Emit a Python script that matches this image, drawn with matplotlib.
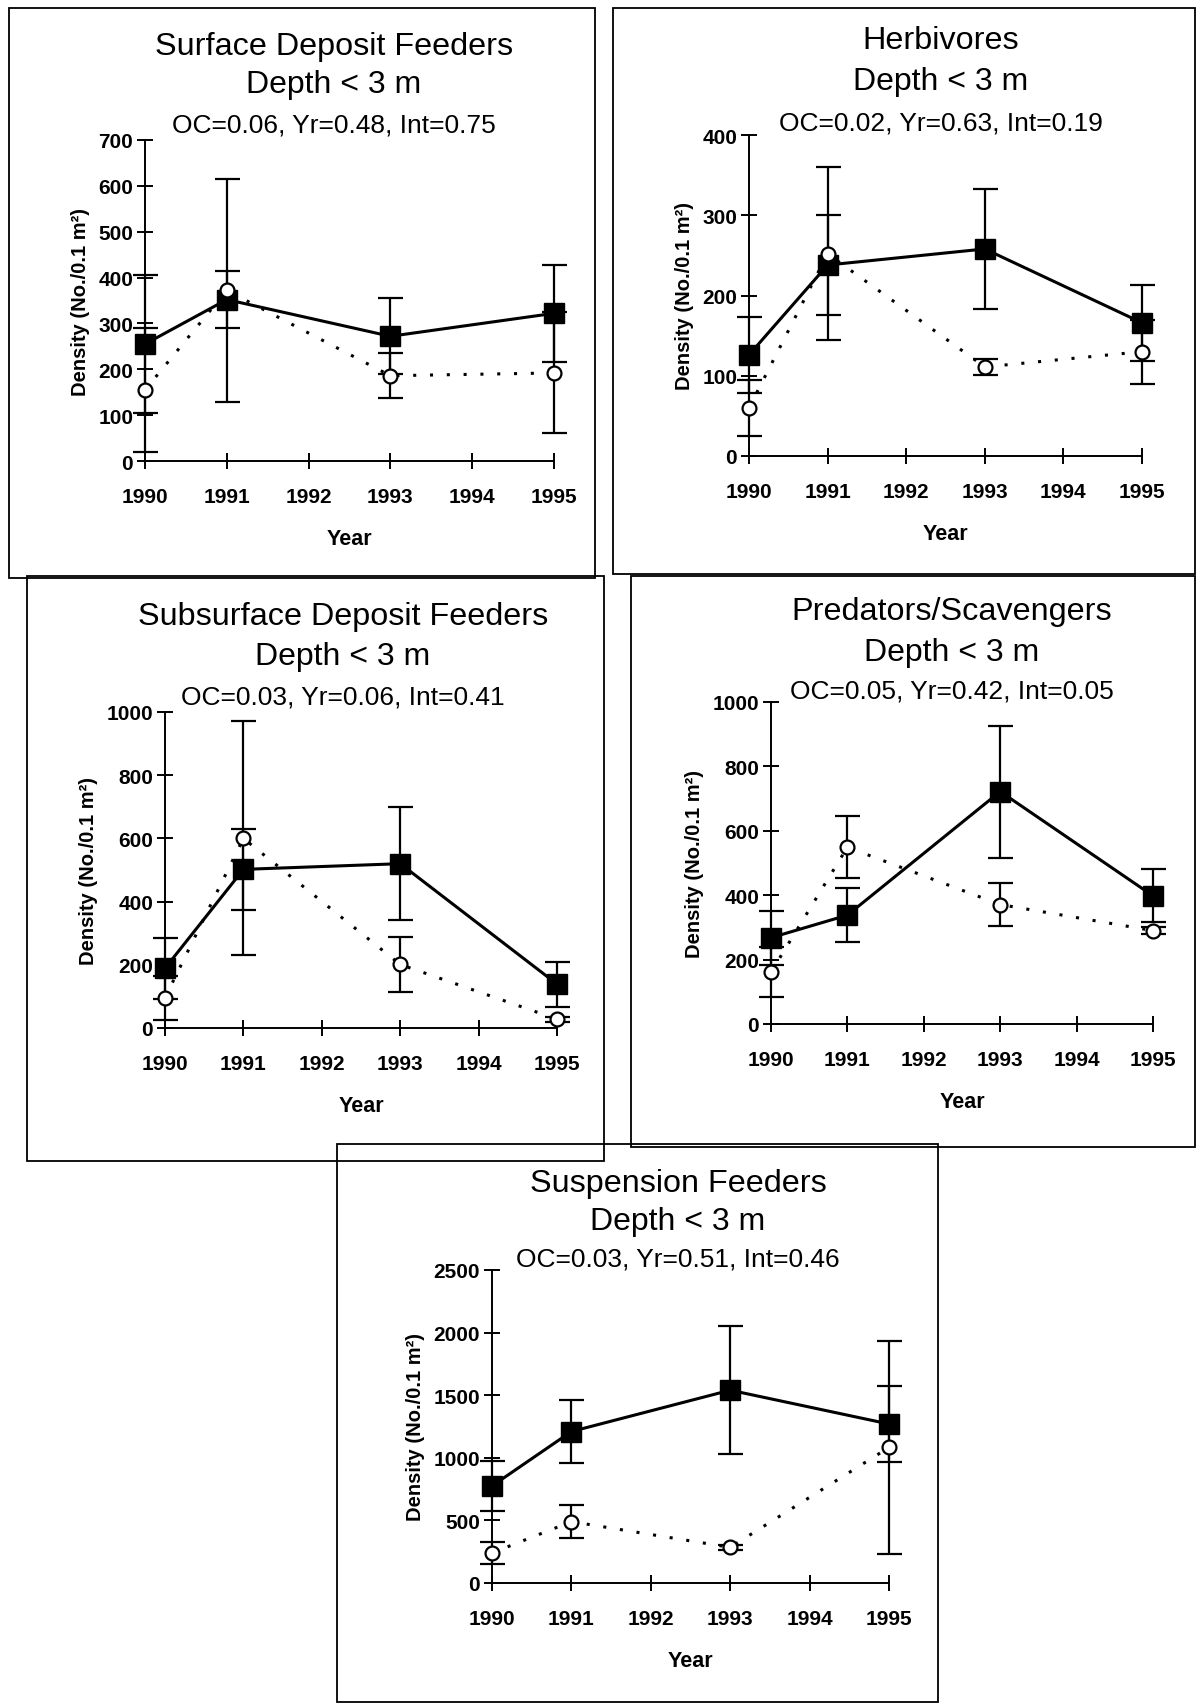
"""
Density of benthic feeding groups, depth < 3 m, 1990-1995
"""

import matplotlib.pyplot as plt
from matplotlib.patches import Rectangle

plt.rcParams["font.family"] = ["Liberation Sans", "DejaVu Sans"]

# * Figure size in pixels (dpi = 100)
W, H = 1197, 1706

# * Data
years = [1990, 1991, 1993, 1995]
year_ticks = [1990, 1991, 1992, 1993, 1994, 1995]

titles = [
    "Surface Deposit Feeders",
    "Herbivores",
    "Subsurface Deposit Feeders",
    "Predators/Scavengers",
    "Suspension Feeders",
]
stats = [
    "OC=0.06, Yr=0.48, Int=0.75",
    "OC=0.02, Yr=0.63, Int=0.19",
    "OC=0.03, Yr=0.06, Int=0.41",
    "OC=0.05, Yr=0.42, Int=0.05",
    "OC=0.03, Yr=0.51, Int=0.46",
]
y_max = [700, 400, 1000, 1000, 2500]
y_step = [100, 100, 200, 200, 500]

# filled squares (solid line)
surface_sq = [255, 352, 272, 322]
surface_sq_err = [150, 62, 83, 106]
herb_sq = [126, 238, 258, 166]
herb_sq_err = [47, 62, 75, 47]
subsurf_sq = [189, 502, 520, 139]
subsurf_sq_err = [96, 127, 178, 71]
pred_sq = [268, 338, 722, 398]
pred_sq_err = [84, 84, 205, 82]
susp_sq = [775, 1210, 1540, 1270]
susp_sq_err = [200, 250, 510, 305]

# open circles (dotted line)
surface_ci = [155, 372, 186, 192]
surface_ci_err = [135, 243, 49, 132]
herb_ci = [60, 252, 111, 130]
herb_ci_err = [35, 108, 10, 40]
subsurf_ci = [96, 600, 201, 28]
subsurf_ci_err = [70, 370, 87, 8]
pred_ci = [161, 549, 371, 290]
pred_ci_err = [78, 96, 66, 10]
susp_ci = [240, 490, 285, 1083]
susp_ci_err = [88, 134, 22, 850]

squares = [surface_sq, herb_sq, subsurf_sq, pred_sq, susp_sq]
squares_err = [surface_sq_err, herb_sq_err, subsurf_sq_err, pred_sq_err, susp_sq_err]
circles = [surface_ci, herb_ci, subsurf_ci, pred_ci, susp_ci]
circles_err = [surface_ci_err, herb_ci_err, subsurf_ci_err, pred_ci_err, susp_ci_err]

# * Layout in pixels: box (x0, y0, x1, y1), axes (left, right, bottom, top),
# * title centre x and the y of the three title lines
layout = [
    dict(box=(9, 9, 595, 579), ax=(145, 554, 462, 141), cx=334, ty=(47, 85, 125)),
    dict(box=(613, 9, 1195, 575), ax=(749, 1142, 457, 136), cx=941, ty=(41, 82, 123)),
    dict(box=(27, 577, 604, 1162), ax=(165, 557, 1029, 713), cx=343, ty=(617, 657, 697)),
    dict(box=(631, 577, 1195, 1148), ax=(771, 1153, 1025, 703), cx=952, ty=(612, 653, 692)),
    dict(box=(337, 1145, 938, 1703), ax=(492, 889, 1584, 1271), cx=678, ty=(1184, 1222, 1260)),
]


def px_axes(left, right, bottom, top):
    """Convert pixel edges to figure fractions"""
    return [left / W, 1 - bottom / H, (right - left) / W, (bottom - top) / H]


def draw_panel(fig, i):
    """Draw one boxed panel"""
    lay = layout[i]
    x0, y0, x1, y1 = lay["box"]
    fig.patches.append(
        Rectangle((x0 / W, 1 - y1 / H), (x1 - x0) / W, (y1 - y0) / H,
                  transform=fig.transFigure, fill=False, lw=1.3, ec="black")
    )
    cx = lay["cx"] / W
    fig.text(cx, 1 - lay["ty"][0] / H, titles[i], ha="center", va="center", fontsize=23.3)
    fig.text(cx, 1 - lay["ty"][1] / H, "Depth < 3 m", ha="center", va="center", fontsize=23)
    fig.text(cx, 1 - lay["ty"][2] / H, stats[i], ha="center", va="center", fontsize=19)

    ax = fig.add_axes(px_axes(*lay["ax"]))
    ## solid series with filled squares
    ax.errorbar(years, squares[i], yerr=squares_err[i], color="black", lw=2.2,
                marker="s", ms=14, mfc="black", mec="black", elinewidth=1.6,
                capsize=9, capthick=1.6, clip_on=False, zorder=3)
    ## dotted series with open circles
    ax.errorbar(years, circles[i], yerr=circles_err[i], color="black", lw=2.2,
                ls=(0, (1, 4.5)), marker="o", ms=10, mfc="white", mec="black",
                mew=1.6, elinewidth=1.6, capsize=9, capthick=1.6,
                clip_on=False, zorder=4)

    ax.set_xlim(1990, 1995)
    ax.set_ylim(0, y_max[i])
    ax.set_xticks(year_ticks)
    ax.set_yticks(range(0, y_max[i] + 1, y_step[i]))
    for side in ["top", "right"]:
        ax.spines[side].set_visible(False)
    for side in ["left", "bottom"]:
        ax.spines[side].set_linewidth(1.4)
    ax.tick_params(direction="inout", length=11, width=1.4, labelsize=15)
    ax.tick_params(axis="x", pad=13)
    ax.tick_params(axis="y", pad=3)
    for lbl in ax.get_xticklabels() + ax.get_yticklabels():
        lbl.set_fontweight("bold")
    ax.set_xlabel("Year", fontsize=15.5, fontweight="bold", labelpad=16)
    ax.set_ylabel("Density (No./0.1 m²)", fontsize=14.5, fontweight="bold", labelpad=6)
    ax.patch.set_alpha(0)


def main() -> None:
    fig = plt.figure(figsize=(W / 100, H / 100), dpi=100)
    for i in range(len(titles)):
        draw_panel(fig, i)
    fig.savefig("out.png", dpi=100)


if __name__ == "__main__":
    main()
